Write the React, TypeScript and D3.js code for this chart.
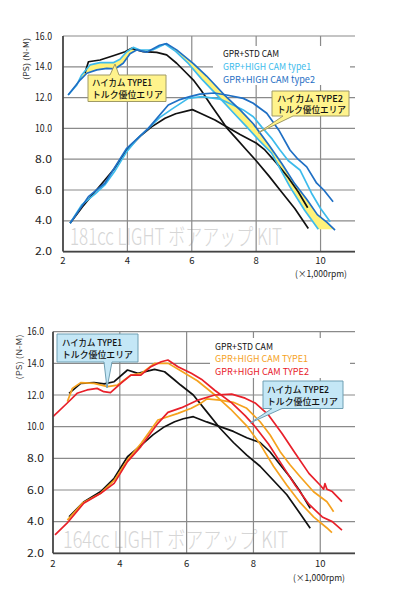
import React from 'react';
import * as d3 from 'd3';

type Pt = [number, number];

// ---------- shared ticks / labels ----------
const xTicks = [2, 4, 6, 8, 10];
const yTicks = [2, 4, 6, 8, 10, 12, 14, 16];
const yAxisLabel = '(PS)  (N-M)';
const xAxisLabel = '(×1,000rpm)';
const calloutType1 = ['ハイカム TYPE1', 'トルク優位エリア'];
const calloutType2 = ['ハイカム TYPE2', 'トルク優位エリア'];

// ---------- top chart: 181cc ----------
const topTitle = '181cc LIGHT ボアアップ KIT';
const topLegend = ['GPR+STD CAM', 'GRP+HIGH CAM type1', 'GPR+HIGH CAM type2'];

const topStdTorque: Pt[] = [[2.68,13.58],[2.79,14.33],[3.15,14.44],[3.56,14.72],[3.93,14.98],[4.13,15.2],[4.49,14.98],[4.91,14.94],[5.22,14.77],[5.53,14.23],[5.84,13.58],[6.05,13.14],[6.3,12.45],[6.6,11.5],[6.85,10.75],[7.1,10.0],[7.4,9.3],[7.7,8.6],[8.0,7.9],[8.4,6.9],[8.74,6.0],[9.2,4.8],[9.62,3.5]];
const topStdPower: Pt[] = [[2.22,3.84],[2.6,4.9],[3.0,5.9],[3.3,6.65],[3.6,7.4],[3.98,8.6],[4.4,9.5],[4.75,10.1],[5.17,10.66],[5.5,10.95],[5.89,11.15],[6.02,11.22],[6.25,11.0],[6.72,10.55],[7.0,10.2],[7.5,9.6],[8.0,9.05],[8.27,8.6],[8.64,7.73],[9.0,6.8],[9.3,5.9],[9.6,4.85]];
const topT1Torque: Pt[] = [[2.16,12.17],[2.43,12.82],[2.58,13.47],[2.84,14.12],[3.15,14.27],[3.56,14.27],[3.77,14.49],[3.98,14.98],[4.18,15.26],[4.39,15.09],[4.8,15.1],[5.17,15.48],[5.5,15.0],[5.9,14.2],[6.31,13.2],[6.88,11.95],[7.3,11.0],[7.7,10.11],[8.1,9.2],[8.48,8.4],[9.05,6.2],[9.5,4.7],[9.93,3.45]];
const topT1Power: Pt[] = [[2.22,3.84],[2.58,5.03],[3.0,5.75],[3.3,6.33],[3.6,7.2],[3.98,8.49],[4.3,9.3],[4.65,10.0],[5.0,10.7],[5.38,11.25],[5.89,11.95],[6.31,12.06],[6.88,11.9],[7.3,11.5],[7.6,11.2],[7.91,10.76],[8.17,10.1],[8.5,9.3],[8.74,8.6],[9.0,7.9],[9.36,7.3],[9.72,5.79],[10.0,4.8],[10.3,3.94]];
const topT2Torque: Pt[] = [[2.16,12.17],[2.53,13.14],[2.74,13.58],[3.05,13.8],[3.36,13.9],[3.61,13.86],[3.87,14.23],[4.08,14.85],[4.3,15.1],[4.6,14.95],[5.0,15.4],[5.22,15.5],[5.53,15.1],[6.05,14.2],[6.46,13.4],[7.0,12.2],[7.5,11.2],[7.91,10.3],[8.4,8.9],[8.8,7.7],[9.2,6.4],[9.57,5.4],[9.9,4.4],[10.2,3.9],[10.45,3.4]];
const topT2Power: Pt[] = [[2.22,3.84],[2.79,5.57],[3.3,6.44],[3.98,8.71],[4.65,10.0],[5.27,11.52],[5.6,11.85],[5.94,12.06],[6.25,12.23],[6.7,12.3],[7.08,12.17],[7.6,11.95],[7.91,11.63],[8.33,10.98],[8.7,9.9],[9.05,8.6],[9.3,8.0],[9.57,7.5],[9.88,6.44],[10.1,6.0],[10.39,5.24]];

// ---------- bottom chart: 164cc ----------
const botTitle = '164cc LIGHT ボアアップ KIT';
const botLegend = ['GPR+STD CAM', 'GPR+HIGH CAM TYPE1', 'GPR+HIGH CAM TYPE2'];

const botStdTorque: Pt[] = [[2.48,12.11],[2.83,12.74],[3.23,12.78],[3.53,12.7],[3.83,12.84],[4.23,13.58],[4.54,13.37],[5.04,13.62],[5.34,13.47],[5.64,12.95],[5.82,12.63],[6.2,12.0],[6.6,10.95],[7.0,9.9],[7.4,9.0],[7.8,8.2],[8.2,7.5],[8.6,6.6],[9.0,5.7],[9.4,4.5],[9.7,3.58]];
const botStdPower: Pt[] = [[2.48,4.31],[2.93,5.26],[3.43,5.9],[3.83,6.74],[4.23,8.1],[4.64,8.84],[5.0,9.5],[5.34,10.0],[5.64,10.31],[5.9,10.5],[6.2,10.63],[6.6,10.3],[7.0,10.0],[7.4,9.7],[7.8,9.3],[8.2,9.0],[8.5,8.4],[8.8,7.6],[9.1,6.8],[9.4,5.9],[9.7,4.84]];
const botT1Torque: Pt[] = [[2.43,11.58],[2.58,12.42],[2.83,12.78],[3.23,12.74],[3.63,12.53],[3.93,12.63],[4.33,13.26],[4.64,13.37],[5.04,14.0],[5.45,14.0],[5.85,13.5],[6.32,12.9],[6.82,12.05],[7.32,11.1],[7.82,10.0],[8.2,8.9],[8.6,7.5],[9.0,6.3],[9.4,5.2],[9.8,4.3],[10.2,3.6],[10.35,3.3]];
const botT1Power: Pt[] = [[2.43,4.1],[2.9,5.2],[3.43,5.8],[3.83,6.6],[4.23,7.9],[4.64,8.95],[5.14,10.42],[5.74,10.84],[6.14,11.16],[6.44,11.5],[6.6,11.75],[7.0,11.68],[7.4,11.54],[7.8,11.16],[8.2,10.31],[8.5,9.47],[8.8,8.42],[9.1,7.58],[9.4,6.84],[9.8,5.89],[10.2,5.26],[10.4,4.63]];
const botT2Torque: Pt[] = [[2.0,10.63],[2.42,11.48],[2.72,12.11],[3.02,12.32],[3.32,12.42],[3.52,12.21],[3.72,12.15],[4.03,12.74],[4.33,13.26],[4.63,13.26],[4.93,13.79],[5.24,14.1],[5.44,14.21],[5.74,13.79],[6.14,13.37],[6.44,13.0],[6.84,12.3],[7.35,11.5],[7.75,10.7],[8.05,10.0],[8.45,8.9],[8.85,7.6],[9.25,6.3],[9.66,5.1],[10.06,4.3],[10.36,4.0],[10.65,3.47]];
const botT2Power: Pt[] = [[2.06,3.16],[2.42,3.9],[2.92,5.16],[3.43,5.79],[3.83,6.42],[4.23,7.79],[4.63,8.74],[5.14,10.21],[5.44,10.9],[5.85,11.2],[6.34,11.68],[6.84,12.0],[7.35,12.06],[7.75,11.8],[8.05,11.5],[8.45,10.74],[8.85,9.58],[9.25,8.32],[9.66,7.05],[10.0,6.3],[10.1,6.05],[10.14,6.4],[10.2,6.05],[10.36,5.9],[10.65,5.26]];

// ---------- helpers ----------
const FONT = '"Noto Sans CJK JP", "Noto Sans", sans-serif';

function interp(pts: Pt[], r: number): number {
  const n = pts.length;
  if (r <= pts[0][0]) return pts[0][1];
  if (r >= pts[n - 1][0]) return pts[n - 1][1];
  const i = d3.bisector((d: Pt) => d[0]).right(pts, r);
  const a = pts[i - 1], b = pts[i];
  const t = (r - a[0]) / (b[0] - a[0]);
  return a[1] + t * (b[1] - a[1]);
}

type Series = { pts: Pt[]; color: string };
type Fill = { upper: Pt[]; lower: Pt[]; from: number; to: number };
type Callout = { path: string; lines: string[]; x: number; y: number[]; len: number[]; fill: string; stroke: string };

interface ChartProps {
  x0: number; x1: number; xMax: number; y0: number; y1: number;
  yLabelRight: number; xLabelBaseline: number;
  yTitle: { x: number; y: number; len: number };
  xTitle: { x: number; y: number; len: number };
  watermark: { text: string; x: number; y: number; len: number };
  legend: { labels: string[]; colors: string[]; x: number; ys: number[]; lens: number[]; bg: [number, number, number, number] };
  series: Series[];
  fills: Fill[];
  callouts: Callout[];
}

function Chart(p: ChartProps) {
  const x = d3.scaleLinear().domain([2, p.xMax]).range([p.x0, p.x1]);
  const y = d3.scaleLinear().domain([2, 16]).range([p.y0, p.y1]);
  const line = d3.line<Pt>().x(d => x(d[0])).y(d => y(d[1]));
  const fmt = d3.format('.1f');
  return (
    <g>
      <text x={p.watermark.x} y={p.watermark.y} fontFamily={FONT} fontSize={23} fontWeight={300}
        fill="#d6d6d6" textLength={p.watermark.len} lengthAdjust="spacingAndGlyphs">{p.watermark.text}</text>
      {yTicks.map(v => (
        <line key={'h' + v} x1={p.x0} x2={p.x1} y1={y(v)} y2={y(v)} stroke="#8a8a8a" strokeWidth={1.2} />
      ))}
      {xTicks.filter(v => v > 2).map(v => (
        <line key={'v' + v} x1={x(v)} x2={x(v)} y1={p.y0} y2={p.y1} stroke="#8a8a8a" strokeWidth={1.2} />
      ))}
      <rect x={p.legend.bg[0]} y={p.legend.bg[1]} width={p.legend.bg[2]} height={p.legend.bg[3]} fill="#fff" />
      {p.fills.map((f, i) => {
        const grid = d3.range(f.from, f.to + 1e-9, 0.02);
        const area = d3.area<number>()
          .x(r => x(r))
          .y0(r => y(interp(f.lower, r)))
          .y1(r => y(Math.max(interp(f.upper, r), interp(f.lower, r))));
        return <path key={'f' + i} d={area(grid) || ''} fill="#fff27a" stroke="none" />;
      })}
      {p.series.map((s, i) => (
        <path key={'s' + i} d={line(s.pts) || ''} fill="none" stroke={s.color} strokeWidth={1.7} strokeLinejoin="round" />
      ))}
      <line x1={p.x0} x2={p.x0} y1={p.y0} y2={p.y1} stroke="#444" strokeWidth={1.8} />
      <line x1={p.x0} x2={p.x1} y1={p.y0} y2={p.y0} stroke="#444" strokeWidth={1.8} />
      {yTicks.map(v => (
        <text key={'yl' + v} x={p.yLabelRight} y={y(v)} dy="0.36em" textAnchor="end" fontFamily={FONT}
          fontSize={10} fill="#222" textLength={17} lengthAdjust="spacingAndGlyphs">{fmt(v)}</text>
      ))}
      {xTicks.map(v => (
        <text key={'xl' + v} x={x(v)} y={p.xLabelBaseline} textAnchor="middle" fontFamily={FONT}
          fontSize={9.5} fill="#222">{v}</text>
      ))}
      <text transform={`translate(${p.yTitle.x},${p.yTitle.y}) rotate(-90)`} textAnchor="middle" fontFamily={FONT}
        fontSize={8} fill="#333" textLength={p.yTitle.len} lengthAdjust="spacingAndGlyphs">{yAxisLabel}</text>
      <text x={p.xTitle.x} y={p.xTitle.y} textAnchor="middle" fontFamily={FONT} fontSize={9} fill="#222"
        textLength={p.xTitle.len} lengthAdjust="spacingAndGlyphs">{xAxisLabel}</text>
      <text fontFamily={FONT} fontSize={9.3}>
        {p.legend.labels.map((t, i) => (
          <tspan key={'lg' + i} x={p.legend.x} y={p.legend.ys[i]} fill={p.legend.colors[i]}
            textLength={p.legend.lens[i]} lengthAdjust="spacingAndGlyphs">{t}</tspan>
        ))}
      </text>
      {p.callouts.map((c, i) => (
        <g key={'c' + i}>
          <path d={c.path} fill={c.fill} stroke={c.stroke} strokeWidth={1} />
          <text fontFamily={FONT} fontSize={9} fontWeight={500} fill="#111">
            {c.lines.map((t, j) => (
              <tspan key={j} x={c.x} y={c.y[j]} textLength={c.len[j]} lengthAdjust="spacingAndGlyphs">{t}</tspan>
            ))}
          </text>
        </g>
      ))}
    </g>
  );
}

const YEL = '#fff38c';
const YEL_S = '#a09a66';
const BLU = '#c4e7f6';
const BLU_S = '#6f9fb3';

export default function App() {
  return (
    <svg width={400} height={610} viewBox="0 0 400 610"
      style={{ position: 'absolute', left: 0, top: 0, background: '#fff' }}>
      <Chart
        x0={63} x1={355} xMax={11.07} y0={251.6} y1={36}
        yLabelRight={52} xLabelBaseline={264}
        yTitle={{ x: 29, y: 59, len: 42 }}
        xTitle={{ x: 321, y: 277, len: 52 }}
        watermark={{ text: topTitle, x: 70, y: 245, len: 212 }}
        legend={{ labels: topLegend, colors: ['#111', '#3dbbec', '#1f6fc4'], x: 223, ys: [57, 70, 82.5], lens: [56, 88, 92], bg: [213, 46, 137, 39] }}
        fills={[
          { upper: topT1Torque, lower: topT2Torque, from: 2.3, to: 4.7 },
          { upper: topT2Torque, lower: topT1Torque, from: 4.9, to: 10.45 },
        ]}
        series={[
          { pts: topStdPower, color: '#111' },
          { pts: topStdTorque, color: '#111' },
          { pts: topT1Power, color: '#3dbbec' },
          { pts: topT1Torque, color: '#3dbbec' },
          { pts: topT2Power, color: '#1f6fc4' },
          { pts: topT2Torque, color: '#1f6fc4' },
        ]}
        callouts={[
          { path: 'M88,75 L110,75 L115,64 L119,75 L166,75 L166,101.5 L88,101.5 Z', lines: calloutType1, x: 92, y: [86, 98], len: [60, 71], fill: YEL, stroke: YEL_S },
          { path: 'M272,91 L349,91 L349,116 L293,116 L258,133 L283,116 L272,116 Z', lines: calloutType2, x: 277, y: [101.5, 113], len: [66, 69], fill: YEL, stroke: YEL_S },
        ]}
      />
      <Chart
        x0={53} x1={355} xMax={11.04} y0={553.3} y1={331.7}
        yLabelRight={44} xLabelBaseline={567}
        yTitle={{ x: 22, y: 357, len: 45 }}
        xTitle={{ x: 319, y: 581, len: 52 }}
        watermark={{ text: botTitle, x: 63, y: 548, len: 225 }}
        legend={{ labels: botLegend, colors: ['#111', '#f5a21e', '#e8202a'], x: 215, ys: [349.5, 362.2, 375], lens: [58, 93, 94], bg: [210, 338, 140, 40] }}
        fills={[]}
        series={[
          { pts: botStdPower, color: '#111' },
          { pts: botStdTorque, color: '#111' },
          { pts: botT1Power, color: '#f5a21e' },
          { pts: botT1Torque, color: '#f5a21e' },
          { pts: botT2Power, color: '#e8202a' },
          { pts: botT2Torque, color: '#e8202a' },
        ]}
        callouts={[
          { path: 'M57,334 L138,334 L138,362 L112,362 L107,388 L104,362 L57,362 Z', lines: calloutType1, x: 62, y: [346, 358], len: [60, 71], fill: BLU, stroke: BLU_S },
          { path: 'M263,381 L343,381 L343,408.5 L282,408.5 L250,423 L272,408.5 L263,408.5 Z', lines: calloutType2, x: 267, y: [392.5, 404.5], len: [62, 71], fill: BLU, stroke: BLU_S },
        ]}
      />
    </svg>
  );
}
